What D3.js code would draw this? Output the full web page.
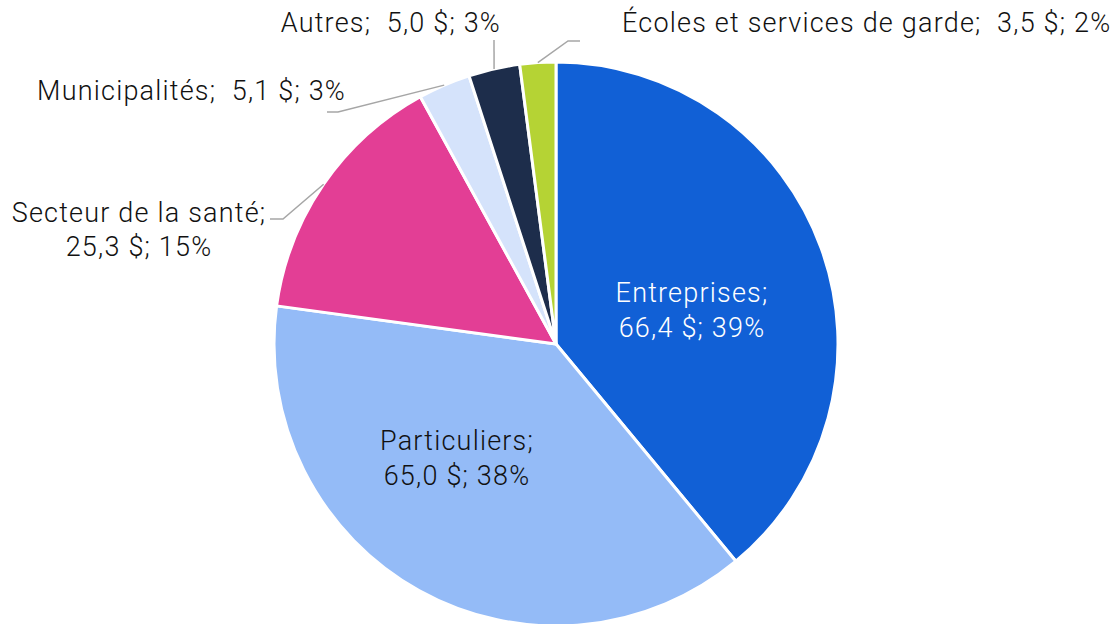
<!DOCTYPE html>
<html><head><meta charset="utf-8">
<script src="https://cdn.jsdelivr.net/npm/d3@7"></script>
<style>
html,body{margin:0;padding:0;background:#fff;}
svg{display:block;}
text{font-family:Roboto,"Noto Sans",sans-serif;font-weight:300;font-size:27px;letter-spacing:1.2px;}
</style></head>
<body>
<svg id="chart" width="1117" height="624"></svg>
<script>
const categories = ["Entreprises", "Particuliers", "Secteur de la santé", "Municipalités", "Autres", "Écoles et services de garde"];
const values = [66.4, 65.0, 25.3, 5.1, 5.0, 3.5];
const percents = [39, 38, 15, 3, 3, 2];
const colors = ["#1160D6", "#94BBF7", "#E33E95", "#D5E3FB", "#1D2D4B", "#B5D334"];

const W = 1117, H = 624;
const cx = 556, cy = 344, R = 282;
const svg = d3.select("#chart");
const g = svg.append("g").attr("transform", `translate(${cx},${cy})`);

const fmt = v => v.toFixed(1).replace(".", ",");
const data = categories.map((c, i) => ({cat: c, value: values[i], pct: percents[i], color: colors[i]}));

const pie = d3.pie().sort(null).value(d => d.value).startAngle(0).endAngle(2 * Math.PI);
const arc = d3.arc().innerRadius(0).outerRadius(R);
const arcs = pie(data);

g.selectAll("path.slice").data(arcs).join("path")
  .attr("class", "slice")
  .attr("d", arc)
  .attr("fill", d => d.data.color)
  .attr("stroke", "#fff")
  .attr("stroke-width", 3)
  .attr("stroke-linejoin", "round");

const layout = [
  {inside: true, x: 692, lines: [302, 337], anchor: "middle", fill: "#fff"},
  {inside: true, x: 457, lines: [450, 485], anchor: "middle", fill: "#111"},
  {elbow: [283, 219], end: [270, 219], x: [139, 139], lines: [222, 256], anchors: ["middle", "middle"], two: true},
  {elbow: [338, 112], end: [327, 112], x: [346], lines: [100], anchors: ["end"]},
  {elbow: [494, 40], end: [494, 40], x: [501], lines: [32], anchors: ["end"]},
  {elbow: [568, 41], end: [580, 41], x: [622], lines: [32], anchors: ["start"]}
];

const mid = d => (d.startAngle + d.endAngle) / 2;

arcs.forEach((d, i) => {
  const L = layout[i];
  const line1 = d.data.cat + ";";
  const line2 = fmt(d.data.value) + " $; " + d.data.pct + "%";
  if (L.inside) {
    [line1, line2].forEach((t, k) => {
      svg.append("text").attr("x", L.x).attr("y", L.lines[k])
        .attr("text-anchor", L.anchor).attr("fill", L.fill).text(t);
    });
    return;
  }
  const a = mid(d);
  const p0 = [cx + R * Math.sin(a), cy - R * Math.cos(a)];
  svg.append("polyline")
    .attr("points", [p0, L.elbow, L.end].map(p => p.join(",")).join(" "))
    .attr("fill", "none").attr("stroke", "#A6A6A6").attr("stroke-width", 1.5);
  if (L.two) {
    svg.append("text").attr("x", L.x[0]).attr("y", L.lines[0]).attr("text-anchor", L.anchors[0]).attr("fill", "#111").text(line1);
    svg.append("text").attr("x", L.x[1]).attr("y", L.lines[1]).attr("text-anchor", L.anchors[1]).attr("fill", "#111").text(line2);
  } else {
    svg.append("text").attr("x", L.x[0]).attr("y", L.lines[0]).attr("text-anchor", L.anchors[0])
      .attr("fill", "#111").attr("xml:space", "preserve").style("white-space", "pre")
      .text(line1 + "  " + line2);
  }
});
</script>
</body></html>
